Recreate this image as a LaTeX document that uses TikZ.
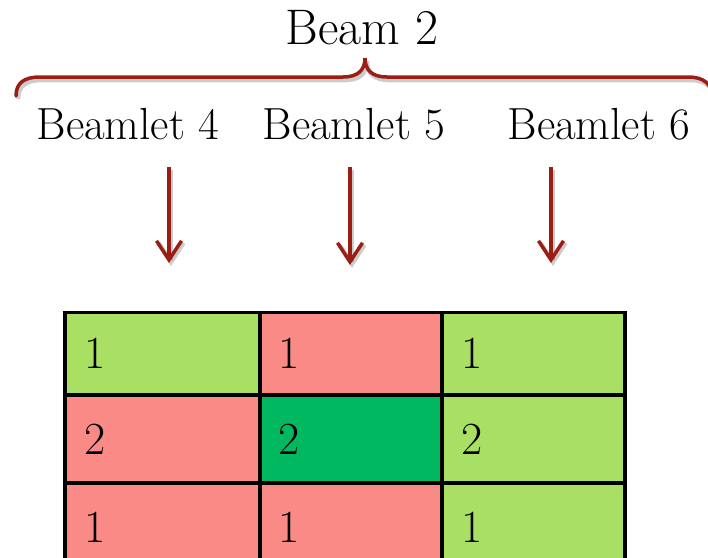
\documentclass[tikz,border=0pt]{standalone}
\usepackage{xcolor}
\definecolor{beam-red}{RGB}{155,30,20}
\definecolor{cell-lime}{RGB}{169,224,99}
\definecolor{cell-salmon}{RGB}{250,138,134}
\definecolor{cell-green}{RGB}{0,184,96}
\usetikzlibrary{arrows.meta}

\begin{document}
\begin{tikzpicture}[
    x=1pt, y=-1pt,
    beam title/.style={
        font=\fontsize{50}{60}\selectfont,
        inner sep=0pt,
        anchor=base
    },
    beamlet label/.style={
        font=\fontsize{45}{54}\selectfont,
        inner sep=0pt,
        anchor=base
    },
    soft shadow/.style={
        preaction={
            draw=black,
            opacity=0.2,
            line width=4.5pt,
            transform canvas={xshift=2pt, yshift=-3pt}
        }
    },
    beam brace/.style={
        draw=beam-red,
        line width=3.5pt,
        line cap=round
    },
    beam arrow/.style={
        draw=beam-red,
        line width=3.5pt,
        -{Straight Barb[length=19pt, width=25pt]}
    },
    dose cell/.style={
        draw=black,
        line width=3.3pt,
        anchor=north west,
        inner sep=0pt,
        outer sep=0pt,
        minimum height=88pt
    },
    dose value/.style={
        font=\fontsize{46}{55}\selectfont,
        inner sep=0pt,
        anchor=west
    }
]

% Page frame
\useasboundingbox (0,0) rectangle (708,557);

% === BEAM AND BRACE ===
\node[beam title] (beam) at (362,44) {Beam 2};

\draw[beam brace, soft shadow] (16,96) .. controls (16,83) and (24,77) .. (40,77)
    -- (343,77) .. controls (358,77) and (365,70) .. (365,58)
    .. controls (365,70) and (372,77) .. (387,77)
    -- (688,77) .. controls (704,77) and (712,84) .. (713,98);

% Beamlet labels
\node[beamlet label] (bl4) at (128,139) {Beamlet 4};
\node[beamlet label] (bl5) at (354,139) {Beamlet 5};
\node[beamlet label] (bl6) at (599,139) {Beamlet 6};

% === ARROWS ===
\coordinate (a4top) at (169,167);
\coordinate (a4tip) at (169,263);
\coordinate (a5top) at (350,167);
\coordinate (a5tip) at (350,265);
\coordinate (a6top) at (551,167);
\coordinate (a6tip) at (551,263);

\draw[beam arrow, soft shadow] (a4top) -- (a4tip);
\draw[beam arrow, soft shadow] (a5top) -- (a5tip);
\draw[beam arrow, soft shadow] (a6top) -- (a6tip);

% === DOSE TABLE ===
% Row 1
\node[dose cell, fill=cell-lime, minimum width=195pt, minimum height=82.5pt] (c11) at (65,312.5) {};
\node[dose cell, fill=cell-salmon, minimum width=182pt, minimum height=82.5pt] (c12) at (260,312.5) {};
\node[dose cell, fill=cell-lime, minimum width=183pt, minimum height=82.5pt] (c13) at (442,312.5) {};
\node[dose value] at ([xshift=19pt]c11.west) {1};
\node[dose value] at ([xshift=18pt]c12.west) {1};
\node[dose value] at ([xshift=19pt]c13.west) {1};

% Row 2
\node[dose cell, fill=cell-salmon, minimum width=195pt] (c21) at (65,395) {};
\node[dose cell, fill=cell-green, minimum width=182pt] (c22) at (260,395) {};
\node[dose cell, fill=cell-lime, minimum width=183pt] (c23) at (442,395) {};
\node[dose value] at ([xshift=19pt]c21.west) {2};
\node[dose value] at ([xshift=18pt]c22.west) {2};
\node[dose value] at ([xshift=19pt]c23.west) {2};

% Row 3
\node[dose cell, fill=cell-salmon, minimum width=195pt] (c31) at (65,483) {};
\node[dose cell, fill=cell-salmon, minimum width=182pt] (c32) at (260,483) {};
\node[dose cell, fill=cell-lime, minimum width=183pt] (c33) at (442,483) {};
\node[dose value] at ([xshift=19pt]c31.west) {1};
\node[dose value] at ([xshift=18pt]c32.west) {1};
\node[dose value] at ([xshift=19pt]c33.west) {1};

\end{tikzpicture}
\end{document}
